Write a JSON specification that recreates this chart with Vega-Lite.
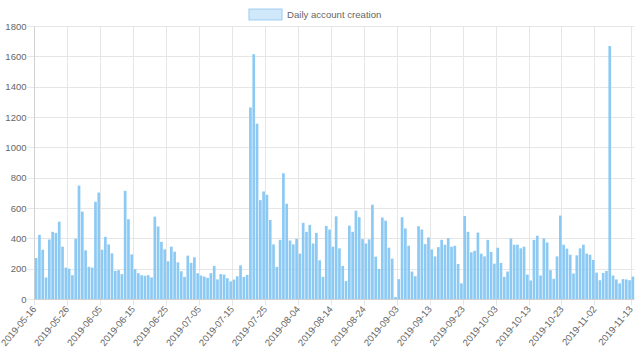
{
"$schema": "https://vega.github.io/schema/vega-lite/v6.json",
"width": 600, "height": 273,
"autosize": {"type": "none"},
"padding": {"left": 34, "top": 26, "right": 6, "bottom": 62},
"config": {"view": {"stroke": null}, "font": "Liberation Sans"},
"data": {"values": [
{"date":"2019-05-16","count":270},{"date":"2019-05-17","count":423},{"date":"2019-05-18","count":325},{"date":"2019-05-19","count":142},{"date":"2019-05-20","count":393},{"date":"2019-05-21","count":443},{"date":"2019-05-22","count":436},{"date":"2019-05-23","count":510},{"date":"2019-05-24","count":345},{"date":"2019-05-25","count":207},{"date":"2019-05-26","count":200},{"date":"2019-05-27","count":157},{"date":"2019-05-28","count":397},{"date":"2019-05-29","count":748},{"date":"2019-05-30","count":576},{"date":"2019-05-31","count":321},
{"date":"2019-06-01","count":212},{"date":"2019-06-02","count":207},{"date":"2019-06-03","count":641},{"date":"2019-06-04","count":702},{"date":"2019-06-05","count":325},{"date":"2019-06-06","count":410},{"date":"2019-06-07","count":360},{"date":"2019-06-08","count":301},{"date":"2019-06-09","count":185},{"date":"2019-06-10","count":190},{"date":"2019-06-11","count":164},{"date":"2019-06-12","count":713},{"date":"2019-06-13","count":526},{"date":"2019-06-14","count":294},{"date":"2019-06-15","count":197},{"date":"2019-06-16","count":170},{"date":"2019-06-17","count":157},{"date":"2019-06-18","count":153},{"date":"2019-06-19","count":157},{"date":"2019-06-20","count":142},{"date":"2019-06-21","count":543},{"date":"2019-06-22","count":478},{"date":"2019-06-23","count":377},{"date":"2019-06-24","count":327},{"date":"2019-06-25","count":249},{"date":"2019-06-26","count":345},{"date":"2019-06-27","count":312},{"date":"2019-06-28","count":242},{"date":"2019-06-29","count":183},{"date":"2019-06-30","count":146},
{"date":"2019-07-01","count":286},{"date":"2019-07-02","count":238},{"date":"2019-07-03","count":275},{"date":"2019-07-04","count":170},{"date":"2019-07-05","count":155},{"date":"2019-07-06","count":148},{"date":"2019-07-07","count":140},{"date":"2019-07-08","count":170},{"date":"2019-07-09","count":218},{"date":"2019-07-10","count":129},{"date":"2019-07-11","count":164},{"date":"2019-07-12","count":161},{"date":"2019-07-13","count":137},{"date":"2019-07-14","count":116},{"date":"2019-07-15","count":128},{"date":"2019-07-16","count":150},{"date":"2019-07-17","count":222},{"date":"2019-07-18","count":146},{"date":"2019-07-19","count":159},{"date":"2019-07-20","count":1263},{"date":"2019-07-21","count":1614},{"date":"2019-07-22","count":1156},{"date":"2019-07-23","count":652},{"date":"2019-07-24","count":709},{"date":"2019-07-25","count":687},{"date":"2019-07-26","count":521},{"date":"2019-07-27","count":360},{"date":"2019-07-28","count":212},{"date":"2019-07-29","count":390},{"date":"2019-07-30","count":829},{"date":"2019-07-31","count":628},
{"date":"2019-08-01","count":386},{"date":"2019-08-02","count":360},{"date":"2019-08-03","count":397},{"date":"2019-08-04","count":299},{"date":"2019-08-05","count":502},{"date":"2019-08-06","count":443},{"date":"2019-08-07","count":489},{"date":"2019-08-08","count":366},{"date":"2019-08-09","count":436},{"date":"2019-08-10","count":255},{"date":"2019-08-11","count":146},{"date":"2019-08-12","count":482},{"date":"2019-08-13","count":458},{"date":"2019-08-14","count":345},{"date":"2019-08-15","count":545},{"date":"2019-08-16","count":334},{"date":"2019-08-17","count":218},{"date":"2019-08-18","count":118},{"date":"2019-08-19","count":484},{"date":"2019-08-20","count":443},{"date":"2019-08-21","count":582},{"date":"2019-08-22","count":539},{"date":"2019-08-23","count":395},{"date":"2019-08-24","count":366},{"date":"2019-08-25","count":393},{"date":"2019-08-26","count":622},{"date":"2019-08-27","count":279},{"date":"2019-08-28","count":198},{"date":"2019-08-29","count":537},{"date":"2019-08-30","count":517},{"date":"2019-08-31","count":338},
{"date":"2019-09-01","count":266},{"date":"2019-09-02","count":13},{"date":"2019-09-03","count":131},{"date":"2019-09-04","count":539},{"date":"2019-09-05","count":465},{"date":"2019-09-06","count":351},{"date":"2019-09-07","count":181},{"date":"2019-09-08","count":150},{"date":"2019-09-09","count":480},{"date":"2019-09-10","count":458},{"date":"2019-09-11","count":362},{"date":"2019-09-12","count":406},{"date":"2019-09-13","count":327},{"date":"2019-09-14","count":281},{"date":"2019-09-15","count":342},{"date":"2019-09-16","count":390},{"date":"2019-09-17","count":358},{"date":"2019-09-18","count":401},{"date":"2019-09-19","count":345},{"date":"2019-09-20","count":351},{"date":"2019-09-21","count":231},{"date":"2019-09-22","count":103},{"date":"2019-09-23","count":547},{"date":"2019-09-24","count":443},{"date":"2019-09-25","count":308},{"date":"2019-09-26","count":318},{"date":"2019-09-27","count":438},{"date":"2019-09-28","count":299},{"date":"2019-09-29","count":281},{"date":"2019-09-30","count":390},
{"date":"2019-10-01","count":310},{"date":"2019-10-02","count":233},{"date":"2019-10-03","count":338},{"date":"2019-10-04","count":238},{"date":"2019-10-05","count":146},{"date":"2019-10-06","count":181},{"date":"2019-10-07","count":399},{"date":"2019-10-08","count":358},{"date":"2019-10-09","count":358},{"date":"2019-10-10","count":334},{"date":"2019-10-11","count":345},{"date":"2019-10-12","count":161},{"date":"2019-10-13","count":122},{"date":"2019-10-14","count":390},{"date":"2019-10-15","count":417},{"date":"2019-10-16","count":155},{"date":"2019-10-17","count":399},{"date":"2019-10-18","count":373},{"date":"2019-10-19","count":190},{"date":"2019-10-20","count":133},{"date":"2019-10-21","count":281},{"date":"2019-10-22","count":550},{"date":"2019-10-23","count":358},{"date":"2019-10-24","count":332},{"date":"2019-10-25","count":292},{"date":"2019-10-26","count":168},{"date":"2019-10-27","count":288},{"date":"2019-10-28","count":334},{"date":"2019-10-29","count":358},{"date":"2019-10-30","count":299},{"date":"2019-10-31","count":292},
{"date":"2019-11-01","count":257},{"date":"2019-11-02","count":174},{"date":"2019-11-03","count":124},{"date":"2019-11-04","count":172},{"date":"2019-11-05","count":185},{"date":"2019-11-06","count":1668},{"date":"2019-11-07","count":155},{"date":"2019-11-08","count":129},{"date":"2019-11-09","count":103},{"date":"2019-11-10","count":131},{"date":"2019-11-11","count":129},{"date":"2019-11-12","count":124},{"date":"2019-11-13","count":148}
]},
"mark": {"type": "bar", "binSpacing": 0.6},
"encoding": {
  "x": {"field": "date", "type": "temporal", "timeUnit": "utcyearmonthdate",
    "scale": {"domain": [{"year":2019,"month":5,"date":16,"utc":true},{"year":2019,"month":11,"date":14,"utc":true}]},
    "axis": {"title": null, "format": "%Y-%m-%d", "labelAngle": -50, "labelAlign": "right", "labelBaseline": "middle",
      "values": [
        {"year":2019,"month":5,"date":16,"utc":true},{"year":2019,"month":5,"date":26,"utc":true},{"year":2019,"month":6,"date":5,"utc":true},{"year":2019,"month":6,"date":15,"utc":true},{"year":2019,"month":6,"date":25,"utc":true},{"year":2019,"month":7,"date":5,"utc":true},{"year":2019,"month":7,"date":15,"utc":true},{"year":2019,"month":7,"date":25,"utc":true},{"year":2019,"month":8,"date":4,"utc":true},{"year":2019,"month":8,"date":14,"utc":true},{"year":2019,"month":8,"date":24,"utc":true},{"year":2019,"month":9,"date":3,"utc":true},{"year":2019,"month":9,"date":13,"utc":true},{"year":2019,"month":9,"date":23,"utc":true},{"year":2019,"month":10,"date":3,"utc":true},{"year":2019,"month":10,"date":13,"utc":true},{"year":2019,"month":10,"date":23,"utc":true},{"year":2019,"month":11,"date":2,"utc":true},{"year":2019,"month":11,"date":13,"utc":true}],
      "grid": true, "gridColor": "#e6e6e6", "domainColor": "#d0d0d0", "tickColor": "#e6e6e6", "tickSize": 6, "labelPadding": 2,
      "labelFontSize": 9.5, "labelColor": "#666666", "labelOverlap": false, "labelFlush": false}},
  "y": {"field": "count", "type": "quantitative",
    "scale": {"domain": [0, 1800], "nice": false},
    "axis": {"title": null, "format": "d", "values": [0,200,400,600,800,1000,1200,1400,1600,1800], "grid": true, "gridColor": "#e6e6e6",
      "domainColor": "#d0d0d0", "tickColor": "#e6e6e6", "tickSize": 7, "labelPadding": 1, "labelFontSize": 9.5, "labelColor": "#666666"}},
  "color": {"datum": "Daily account creation", "type": "nominal",
    "scale": {"range": ["#8ccaf4"]},
    "legend": {"title": null, "orient": "none", "legendX": 214, "legendY": -29,
      "symbolType": "M-1,-0.32H1V0.32H-1Z", "symbolSize": 1089, "symbolStrokeWidth": 1.2,
      "symbolStrokeColor": "#2a8fe0", "symbolOpacity": 0.4,
      "labelFontSize": 9.6, "labelColor": "#666666", "labelOffset": 4}}
}
}
